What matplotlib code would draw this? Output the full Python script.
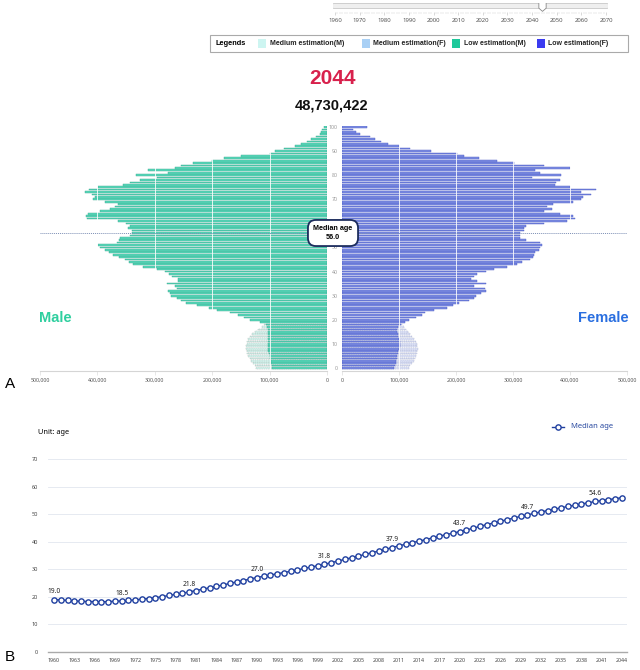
import numpy as np
import matplotlib.pyplot as plt
from matplotlib.patches import Rectangle
from matplotlib.lines import Line2D
from matplotlib.path import Path
from matplotlib.ticker import FuncFormatter

plt.rcParams['font.family'] = ['Noto Sans', 'DejaVu Sans']
BOLD = ['Liberation Sans', 'DejaVu Sans']

# 1) data (population in thousands)
YEAR = "2044"
TOTAL_POP = "48,730,422"
MEDIAN_AGE = 56.0
ages = np.arange(101)
male_low = [95, 96, 97, 98, 99, 100, 101, 102, 102, 103,
            103, 103, 103, 102, 102, 102, 103, 104, 106, 117,
            134, 145, 155, 169, 192, 205, 227, 245, 255, 262,
            271, 274, 277, 262, 265, 279, 260, 260, 270, 276,
            282, 297, 320, 338, 345, 352, 362, 373, 380, 387,
            395, 399, 366, 363, 361, 343, 340, 340, 347, 343,
            350, 364, 418, 420, 416, 395, 378, 370, 364, 387,
            407, 405, 410, 422, 415, 399, 355, 343, 326, 297,
            332, 277, 312, 265, 255, 233, 200, 180, 150, 100,
            90, 75, 55, 45, 35, 28, 20, 12, 10, 8, 6]
female_low = [92, 93, 94, 95, 96, 97, 98, 99, 100, 101,
              101, 101, 100, 99, 98, 96, 96, 98, 103, 110,
              118, 130, 140, 145, 162, 185, 195, 206, 223, 232,
              235, 243, 252, 250, 232, 252, 237, 226, 232, 237,
              252, 267, 290, 307, 315, 330, 335, 337, 339, 345,
              347, 350, 348, 322, 313, 313, 313, 319, 320, 322,
              354, 394, 409, 406, 383, 354, 368, 359, 371, 406,
              420, 423, 437, 420, 446, 400, 374, 376, 383, 333,
              385, 348, 339, 400, 354, 301, 272, 240, 214, 202,
              156, 120, 100, 80, 68, 58, 49, 31, 25, 19, 43]
child_ages = np.arange(19)
male_mid = [124, 126, 129, 132, 135, 137, 139, 140, 141, 141,
            140, 139, 137, 134, 130, 125, 120, 114, 109]
female_mid = [118, 120, 123, 126, 128, 130, 132, 132, 133, 132,
              131, 129, 126, 123, 120, 116, 112, 108, 105]

years = np.arange(1960, 2045)
median_age = [19.0, 18.9, 18.7, 18.5, 18.4, 18.3, 18.3, 18.2, 18.3, 18.4,
              18.5, 18.7, 18.9, 19.2, 19.4, 19.7, 20.1, 20.5, 20.9, 21.3,
              21.8, 22.3, 22.8, 23.3, 23.8, 24.3, 24.9, 25.4, 25.9, 26.5,
              27.0, 27.5, 27.9, 28.4, 28.8, 29.3, 29.8, 30.3, 30.8, 31.3,
              31.8, 32.4, 33.0, 33.6, 34.2, 34.8, 35.4, 36.0, 36.6, 37.2,
              37.9, 38.5, 39.1, 39.7, 40.2, 40.8, 41.4, 42.0, 42.6, 43.1,
              43.7, 44.3, 44.9, 45.6, 46.2, 46.8, 47.4, 48.0, 48.6, 49.2,
              49.7, 50.3, 50.8, 51.3, 51.8, 52.3, 52.8, 53.2, 53.7, 54.1,
              54.6, 54.9, 55.3, 55.6, 56.0]
label_years = [1960, 1970, 1980, 1990, 2000, 2010, 2020, 2030, 2040]
slider_years = list(range(1960, 2071, 10))
legend_labels = ["Medium estimation(M)", "Medium estimation(F)", "Low estimation(M)", "Low estimation(F)"]
legend_colors = ["#cdf5f1", "#a9d0f5", "#1ec99b", "#3b3bf0"]

W, H = 640, 670
fig = plt.figure(figsize=(W/100, H/100), dpi=100)
def fx(px): return px/W
def fy(py): return 1 - py/H

# 2) slider + legend box
ax_s = fig.add_axes([fx(333), fy(12), 275/W, 9/H])
ax_s.set_xlim(1959.2, 2070.8); ax_s.set_ylim(0, 1)
ax_s.plot([1959.6, 2070.4], [0.67, 0.67], color='#c9c9c9', lw=4.2, solid_capstyle='round')
ax_s.plot([1959.6, 2070.4], [0.67, 0.67], color='#efefef', lw=3.0, solid_capstyle='round')
shield = Path([(-0.75, 1), (0.75, 1), (0.75, -0.35), (0, -1), (-0.75, -0.35), (-0.75, 1)])
ax_s.plot([int(YEAR)], [0.62], marker=shield, ms=7, mfc='white', mec='#888', mew=0.6)
ax_s.set_xticks(slider_years); ax_s.set_xticks(range(1960, 2071), minor=True)
ax_s.set_yticks([])
ax_s.tick_params(axis='x', which='major', labelsize=4.3, labelcolor='#555', length=2.5, width=0.4, color='#bbb', pad=1.5)
ax_s.tick_params(axis='x', which='minor', length=1.5, width=0.3, color='#ccc')
for s in ax_s.spines.values(): s.set_visible(False)

fig.add_artist(Rectangle((fx(210), fy(52)), 418/W, 17/H, transform=fig.transFigure, fill=False, ec='#aaa', lw=0.8))
fig.text(fx(216), fy(43.5), "Legends", fontsize=5.3, fontweight='bold', va='center', family=BOLD)
for sx, tx, lab, col in zip([258, 362, 452, 537], [270, 373, 464, 548], legend_labels, legend_colors):
    fig.add_artist(Rectangle((fx(sx), fy(48)), 8/W, 9/H, transform=fig.transFigure, fc=col, ec='none'))
    fig.text(fx(tx), fy(43.5), lab, fontsize=5.0, fontweight='bold', va='center', color='#222', family=BOLD)

fig.text(fx(333), fy(78), YEAR, fontsize=15, fontweight='bold', color='#d8214c', ha='center', va='center', family=BOLD)
fig.text(fx(332), fy(106), TOTAL_POP, fontsize=10.5, fontweight='bold', color='#111', ha='center', va='center', family=BOLD)

# 3) pyramid
bot, hgt = fy(371), 245.5/H
ax_m = fig.add_axes([fx(40), bot, 287/W, hgt])
ax_f = fig.add_axes([fx(342), bot, 285/W, hgt])
ax_m.barh(child_ages, np.array(male_mid)*1000, height=0.7, color='#d6f5ef', ec='#9aaaa6', lw=0.3, ls='--')
ax_m.barh(ages, np.array(male_low)*1000, height=0.7, color='#5ad8bb', ec='#38a88e', lw=0.3)
ax_f.barh(child_ages, np.array(female_mid)*1000, height=0.7, color='#dfe4f8', ec='#9aa2c4', lw=0.3, ls='--')
ax_f.barh(ages, np.array(female_low)*1000, height=0.7, color='#7f8fe3', ec='#4656c4', lw=0.3)
fmt = FuncFormatter(lambda v, p: f"{int(v):,}")
for ax in (ax_m, ax_f):
    ax.set_ylim(-1.25, 100.6)
    ax.set_xticks(range(0, 500001, 100000))
    ax.xaxis.set_major_formatter(fmt)
    for g in range(100000, 500000, 100000):
        ax.axvline(g, color='white', lw=0.7, alpha=0.85, zorder=3)
    ax.axhline(MEDIAN_AGE, color='#7d8fb5', ls=(0, (1, 1)), lw=0.7, zorder=4)
    for s in ('top', 'left', 'right'): ax.spines[s].set_visible(False)
    ax.spines['bottom'].set_color('#d5d5d5')
    ax.tick_params(axis='x', labelsize=3.8, labelcolor='#555', length=3, width=0.4, color='#d5d5d5', pad=2)
ax_m.set_xlim(500000, 0); ax_f.set_xlim(0, 500000)
ax_m.set_yticks([])
ax_f.set_yticks(range(0, 101, 10))
ax_f.tick_params(axis='y', length=0, pad=3, labelsize=3.8, labelcolor='#999')

fig.text(fx(333), fy(233), f"Median age\n{MEDIAN_AGE:.1f}", fontsize=5.2, fontweight='bold', ha='center', va='center',
         family=BOLD, linespacing=1.25,
         bbox=dict(boxstyle='round,pad=0.75,rounding_size=1.1', fc='white', ec='#1b2b5c', lw=1.3), zorder=10)
fig.text(fx(39), fy(318), "Male", fontsize=10.5, fontweight='bold', color='#2fcf9f', va='center', family=BOLD)
fig.text(fx(629), fy(318), "Female", fontsize=10.5, fontweight='bold', color='#2a6fe0', va='center', ha='right', family=BOLD)
fig.text(fx(5), fy(384), "A", fontsize=11, va='center', family=BOLD)

# 4) median age line chart
ax_b = fig.add_axes([fx(48), fy(652), 579/W, 193/H])
ax_b.plot(years, median_age, '-o', color='#1f3f9f', lw=1, ms=3.8, mfc='white', mew=1.0, zorder=3)
for y in label_years:
    v = median_age[y - years[0]]
    ax_b.annotate(f"{v:.1f}", (y, v), xytext=(0, 4.5), textcoords='offset points', ha='center',
                  fontsize=4.8, color='#222')
ax_b.set_xlim(1959.11, 2044.74); ax_b.set_ylim(0, 70)
ax_b.set_xticks(years[::3]); ax_b.set_yticks(range(0, 71, 10))
ax_b.yaxis.grid(True, color='#e2e6ef', lw=0.6); ax_b.set_axisbelow(True)
for s in ('top', 'left', 'right'): ax_b.spines[s].set_visible(False)
ax_b.spines['bottom'].set_color('#aaa'); ax_b.spines['bottom'].set_linewidth(1)
ax_b.tick_params(axis='x', labelsize=3.8, labelcolor='#444', length=0, pad=4)
ax_b.tick_params(axis='y', labelsize=4, labelcolor='#444', length=0, pad=7)
fig.text(fx(38), fy(432), "Unit: age", fontsize=5.3, va='center')
fig.add_artist(Line2D([fx(552), fx(558), fx(564)], [fy(427)]*3, color='#1f3f9f', lw=1, marker='o', ms=3.8,
                      mfc='white', mew=1.0, markevery=[1]))
fig.text(fx(571), fy(427), "Median age", fontsize=5.5, color='#2a4aa0', va='center')
fig.text(fx(5), fy(657), "B", fontsize=11, va='center', family=BOLD)

plt.savefig("out.png", dpi=100)
